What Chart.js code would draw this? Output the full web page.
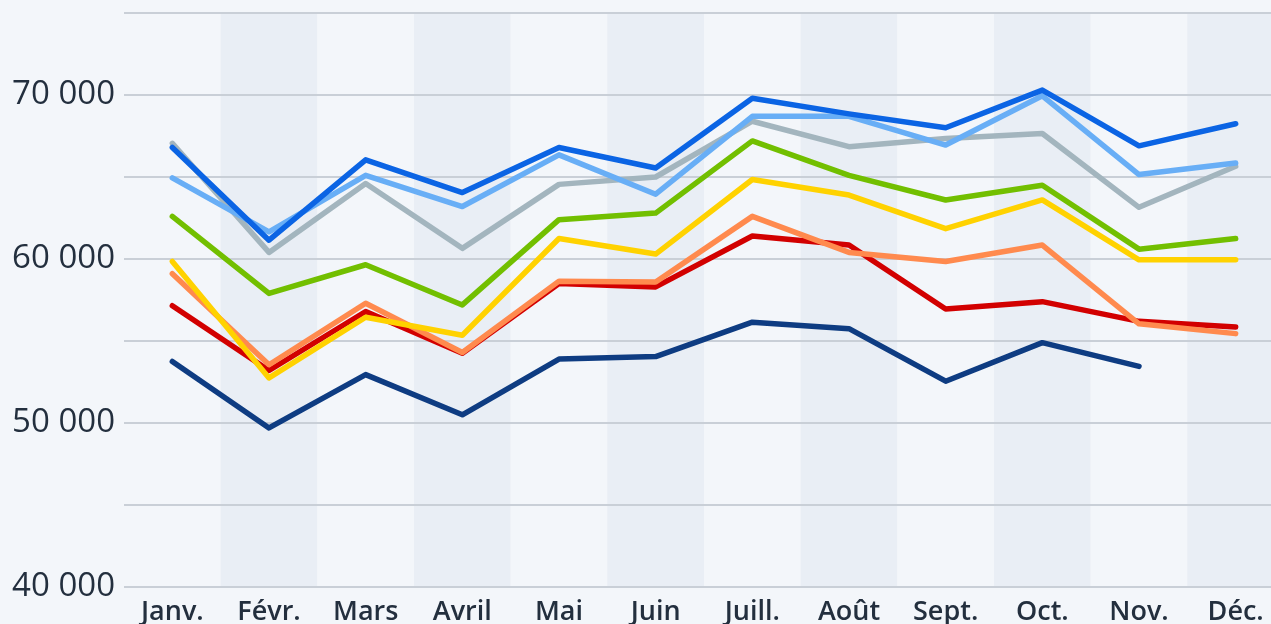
<!DOCTYPE html>
<html>
<head>
<meta charset="utf-8">
<script src="https://cdn.jsdelivr.net/npm/chart.js@4/dist/chart.umd.min.js"></script>
<style>
  html, body { margin: 0; padding: 0; background: #f3f6fa; overflow: hidden; }
  #wrap { position: absolute; left: 0; top: 0; width: 1290px; height: 650px; }
</style>
</head>
<body>
<div id="wrap"><canvas id="chart" width="1290" height="650"></canvas></div>
<script>
const months = ['Janv.', 'Févr.', 'Mars', 'Avril', 'Mai', 'Juin', 'Juill.', 'Août', 'Sept.', 'Oct.', 'Nov.', 'Déc.'];

const navy      = [53750, 49700, 52950, 50500, 53900, 54050, 56150, 55750, 52550, 54900, 53450, null];
const blue      = [66800, 61150, 66050, 64050, 66800, 65550, 69800, 68850, 68000, 70300, 66900, 68250];
const lightBlue = [64950, 61650, 65100, 63200, 66350, 63950, 68700, 68700, 66950, 69950, 65150, 65850];
const grey      = [67050, 60400, 64600, 60650, 64550, 65000, 68400, 66850, 67350, 67650, 63150, 65650];
const green     = [62600, 57900, 59650, 57200, 62400, 62800, 67200, 65100, 63600, 64500, 60600, 61250];
const yellow    = [59850, 52750, 56450, 55350, 61250, 60300, 64850, 63900, 61850, 63600, 59950, 59950];
const orange    = [59100, 53550, 57300, 54300, 58650, 58600, 62600, 60400, 59850, 60850, 56050, 55450];
const red       = [57150, 53200, 56800, 54250, 58500, 58300, 61400, 60850, 56950, 57400, 56200, 55850];

const yMin = 40000;
const yMax = 75000;
const yStep = 5000;

// alternating column bands behind the lines
const bands = {
  id: 'bands',
  beforeDatasetsDraw(chart) {
    const ctx = chart.ctx;
    const x = chart.scales.x;
    const area = chart.chartArea;
    const half = (x.getPixelForValue(1) - x.getPixelForValue(0)) / 2;
    ctx.save();
    months.forEach((m, i) => {
      ctx.fillStyle = i % 2 ? '#e9eef5' : '#f3f6fa';
      const cx = x.getPixelForValue(i);
      ctx.fillRect(cx - half, area.top, half * 2, area.bottom - area.top);
    });
    // horizontal grid on top of the bands
    const y = chart.scales.y;
    ctx.strokeStyle = '#c9cfd7';
    ctx.lineWidth = 2;
    y.ticks.forEach(t => {
      const py = Math.round(y.getPixelForValue(t.value));
      ctx.beginPath();
      ctx.moveTo(area.left, py);
      ctx.lineTo(area.right, py);
      ctx.stroke();
    });
    ctx.restore();
  }
};

function line(data, color) {
  return {
    data: data,
    borderColor: color,
    borderWidth: 5.5,
    pointRadius: 0,
    tension: 0,
    fill: false,
    spanGaps: false,
    borderCapStyle: 'round',
    borderJoinStyle: 'round'
  };
}

new Chart(document.getElementById('chart'), {
  type: 'line',
  data: {
    labels: months,
    datasets: [
      line(navy, '#0e3c82'),
      line(blue, '#0b64e4'),
      line(lightBlue, '#68aef6'),
      line(grey, '#a3b5be'),
      line(green, '#72bf00'),
      line(yellow, '#ffd200'),
      line(orange, '#ff8a4e'),
      line(red, '#d20000')
    ]
  },
  options: {
    responsive: false,
    animation: false,
    layout: { padding: { top: 13, right: 6, left: 0, bottom: 0 } },
    plugins: { legend: { display: false }, tooltip: { enabled: false } },
    scales: {
      x: {
        offset: true,
        grid: { display: false, drawTicks: false },
        border: { display: false },
        ticks: {
          color: '#232f3e',
          font: { family: 'Open Sans', size: 27, weight: '600' },
          padding: 9,
          maxRotation: 0,
          autoSkip: false
        },
        afterFit(s) { s.height = 63; s.paddingLeft = 0; s.paddingRight = 0; }
      },
      y: {
        min: yMin,
        max: yMax,
        grid: { display: false, drawTicks: false },
        border: { display: false },
        ticks: {
          stepSize: yStep,
          color: '#232f3e',
          font: { family: 'Open Sans', size: 33 },
          padding: 9,
          callback: v => v % 10000 === 0 && v < yMax ? String(v / 1000) + ' 000' : ''
        },
        afterFit(s) { s.width = 124; s.paddingTop = 0; s.paddingBottom = 0; }
      }
    }
  },
  plugins: [bands]
});
</script>
</body>
</html>
